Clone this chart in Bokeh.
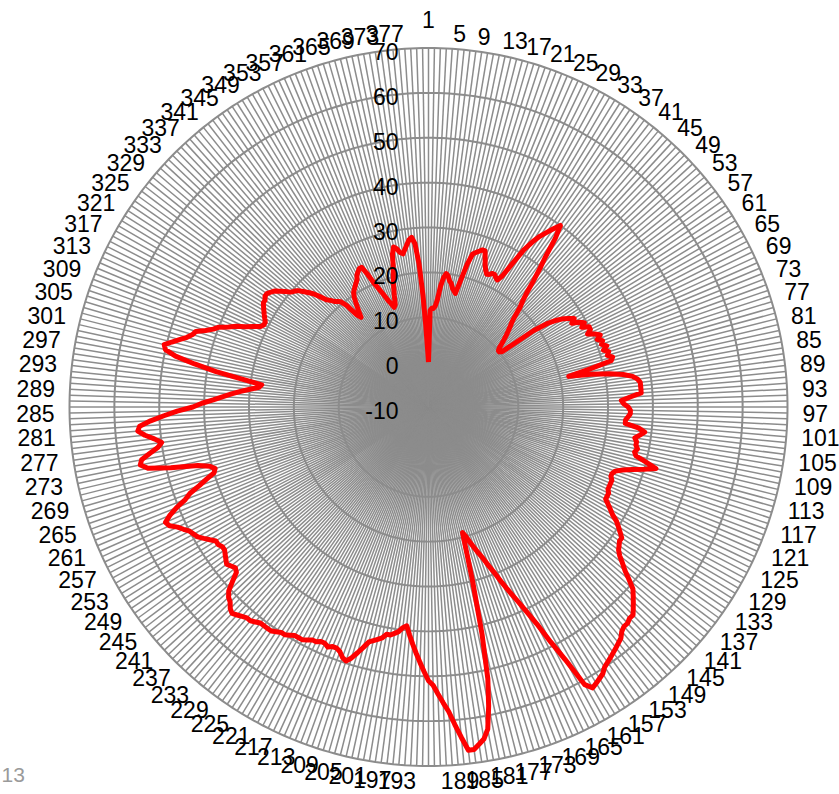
import numpy as np
from bokeh.plotting import figure
from bokeh.models import Range1d, ColumnDataSource
from bokeh.embed import file_html
from bokeh.resources import INLINE
from bokeh.core.properties import value

# ---------------- data ----------------
N = 380
categories = [str(i + 1) for i in range(N)]
r_ticks = [-10, 0, 10, 20, 30, 40, 50, 60, 70]
r_tick_labels = ["-10", "0", "10", "20", "30", "40", "50", "60", "70"]
corner_note = "13"

values_000 = [0, 11.5, 12, 12, 12.5, 14, 17, 19, 20, 19.5, 18.5, 18, 17, 16.5, 16, 19, 23, 25.5, 26, 26.5]
values_020 = [27, 27, 25.5, 24, 23, 22.3, 22.5, 23, 23, 22.5, 22.2, 23.5, 27, 31, 33.5, 35.5, 37, 38.5, 40, 37]
values_040 = [32.5, 29.5, 26.5, 23.5, 21.5, 20, 18, 16.5, 15.5, 14.5, 13.5, 12.5, 11.5, 10.5, 10, 10, 10.5, 19, 22.5, 24.5]
values_060 = [26, 27, 28, 27, 28.5, 29.5, 28.5, 30, 30, 29, 30.5, 31.5, 30.5, 31.5, 31, 32, 31, 32, 31.5, 32.5]
values_080 = [32, 27, 22, 27, 31, 34, 36, 37, 37.5, 37.5, 37.5, 37.5, 35, 33, 33.5, 34.5, 35, 35, 34.5, 34]
values_100 = [34, 37, 38.5, 37.5, 36.5, 37, 37, 37.5, 37, 37.5, 40, 42.5, 40, 37.5, 35.5, 34, 33.5, 33.5, 34, 34]
values_120 = [34, 34, 34.5, 34.5, 34.5, 35.5, 36.5, 37.5, 39, 40, 41, 42, 42, 42.5, 43, 44, 45.5, 47, 49, 51]
values_140 = [52, 53, 54, 55, 55, 55.5, 55.5, 56, 57, 57.5, 58, 58.5, 59, 59.5, 60, 61, 61.5, 62, 62.5, 61]
values_160 = [54, 49, 44, 40.5, 37.5, 35, 32.5, 30, 28, 26, 24.5, 23, 21.5, 20, 19, 30, 42, 52, 58, 63]
values_180 = [65, 66, 67, 67, 64, 61, 58, 56, 54, 52, 51, 49, 47, 45, 43, 41, 39, 39.5, 40.5, 41]
values_200 = [41.5, 41.5, 42.5, 43, 43.5, 44, 45.5, 47, 48.5, 49.5, 49, 48, 47.5, 47.5, 48, 47.5, 47.5, 48, 48, 48.5]
values_220 = [49, 49, 49, 49.5, 50, 50, 50.5, 51, 51, 51, 51, 51.5, 52, 52, 52.5, 53, 53.5, 53, 52, 51.5]
values_240 = [50.5, 48.5, 46.5, 46, 46.5, 47, 46.5, 46, 45.5, 45.5, 46, 46, 47, 48, 49, 49.5, 50, 51, 52, 53.5]
values_260 = [54, 52.5, 50.5, 48, 46.5, 44, 42, 40, 39.5, 40.5, 43, 49, 54, 55.5, 55, 53, 51, 50, 51.5, 53.5]
values_280 = [55, 54.5, 52, 49, 46, 42.5, 40.5, 38, 36, 34, 32, 30, 28, 27.5, 32, 38, 43, 47.5, 50, 50.5]
values_300 = [49, 47.5, 46, 45, 44.5, 42.5, 41, 40, 38, 36.5, 34.5, 33, 31.5, 31, 31, 31.5, 32, 32.5, 33, 33.5]
values_320 = [33.5, 34, 34, 33.5, 33, 32, 31, 30, 29.5, 29, 28, 27, 26, 24.5, 23, 22.3, 21.5, 21, 20.5, 19]
values_340 = [16, 15, 16.5, 18, 19.5, 20.5, 21, 21.5, 22, 22.5, 23.5, 24, 24.5, 24.5, 22.5, 20, 18.5, 17, 15.5, 14.5]
values_360 = [13.5, 14, 16, 18, 20, 22, 25, 26.5, 26, 25, 24.6, 25.5, 26.5, 27.5, 28, 26.5, 22, 15, 8, 3]
values = (values_000 + values_020 + values_040 + values_060 + values_080 + values_100 +
          values_120 + values_140 + values_160 + values_180 + values_200 + values_220 +
          values_240 + values_260 + values_280 + values_300 + values_320 + values_340 +
          values_360)
values = (values + [values[-1]] * N)[:N]

# ---------------- geometry ----------------
R_MIN, R_MAX = -10, 70
R_PX = 359.0
W, H = 839, 794
CX, CY = 428.0, 406.5

def rad(v):
    return (np.asarray(v, dtype=float) - R_MIN) / (R_MAX - R_MIN) * R_PX

theta = np.arange(N) * 2 * np.pi / N
sx, cy_ = np.sin(theta), np.cos(theta)

p = figure(width=W, height=H, x_range=Range1d(-CX, W - CX), y_range=Range1d(-(H - CY), CY),
           output_backend="svg", toolbar_location=None, min_border=0,
           background_fill_color="white", border_fill_color="white")
p.axis.visible = False
p.grid.visible = False
p.outline_line_color = None

GRID = "#8c8c8c"
# spokes
p.segment(x0=np.zeros(N), y0=np.zeros(N), x1=R_PX * sx, y1=R_PX * cy_,
          line_color=GRID, line_width=1.5)
# rings
xs, ys = [], []
for t in r_ticks[1:]:
    rr = float(rad(t))
    xs.append(list(rr * np.append(sx, sx[0])))
    ys.append(list(rr * np.append(cy_, cy_[0])))
p.multi_line(xs=xs, ys=ys, line_color=GRID, line_width=2)

# data line
rv = rad(values)
lx = list(rv * sx) + [rv[0] * sx[0]]
ly = list(rv * cy_) + [rv[0] * cy_[0]]
p.line(lx, ly, line_color="#ff0000", line_width=5, line_join="round")

# radial tick labels
p.text(x=[-30] * len(r_ticks), y=list(rad(r_ticks) - 3.5), text=r_tick_labels,
       text_align="right", text_baseline="middle", text_font=value("Liberation Sans"),
       text_font_size="23px", text_color="#000000")

# category labels
RL = 374.0
lab_x, lab_y, lab_t, lab_a = [], [], [], []
for i in range(0, N, 4):
    s, c = sx[i], cy_[i]
    if i == 0:
        continue
    lab_x.append(RL * s)
    lab_y.append(RL * c)
    lab_t.append(categories[i])
    lab_a.append("left" if s > 0 else "right")
src = ColumnDataSource(dict(x=lab_x, y=lab_y, t=lab_t, a=lab_a))
p.text(x="x", y="y", text="t", text_align="a", text_baseline="middle", source=src,
       text_font=value("Liberation Sans"), text_font_size="23px", text_color="#000000")
p.text(x=[0], y=[R_PX + 20], text=[categories[0]], text_align="center", text_baseline="bottom",
       text_font=value("Liberation Sans"), text_font_size="23px", text_color="#000000")

# corner note
p.text(x=[1 - CX], y=[CY - 774], text=[corner_note], text_align="left", text_baseline="middle",
       text_font=value("Liberation Sans"), text_font_size="21px", text_color="#9a9a9a")

open("out.html", "w").write(file_html(p, INLINE))
